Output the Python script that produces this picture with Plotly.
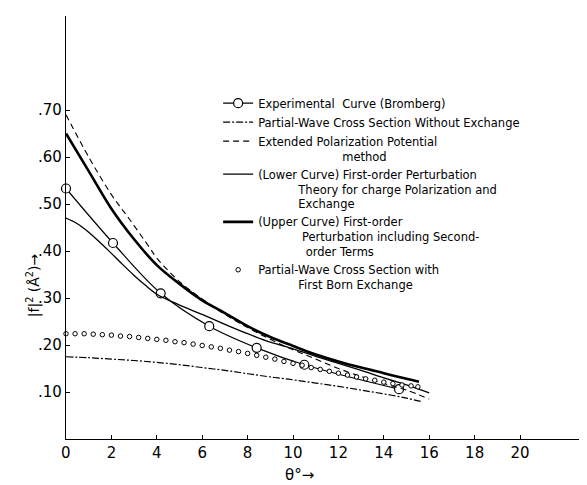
import plotly.graph_objects as go

# ---- data ----
exp_theta = [0, 2.07, 4.17, 6.31, 8.4, 10.5, 14.67]
exp_val = [0.533, 0.417, 0.31, 0.24, 0.194, 0.158, 0.106]

nox_theta = [0, 1, 2, 3, 4, 5, 6, 7, 8, 9, 10, 11, 12, 13, 14, 15, 15.7]
nox_val = [0.175, 0.173, 0.170, 0.167, 0.163, 0.158, 0.152, 0.146, 0.139, 0.132,
           0.126, 0.119, 0.112, 0.104, 0.096, 0.087, 0.079]

epp_theta = [0, 1, 2, 2.82, 3.7, 4, 5, 6, 7, 8, 9, 10, 11, 12, 13, 14, 15, 16]
epp_val = [0.69, 0.60, 0.52, 0.466, 0.406, 0.385, 0.335, 0.298, 0.265, 0.237,
           0.212, 0.19, 0.17, 0.15, 0.133, 0.118, 0.104, 0.085]

low_theta = [0, 0.5, 1, 1.5, 2, 2.5, 3, 3.5, 4, 5, 6, 7, 8, 9, 10, 11, 12, 13, 14, 15, 16]
low_val = [0.47, 0.458, 0.44, 0.418, 0.395, 0.371, 0.348, 0.327, 0.308, 0.285, 0.265,
           0.244, 0.224, 0.206, 0.192, 0.176, 0.161, 0.146, 0.13, 0.115, 0.098]

up_theta = [0, 1, 2, 3, 4, 5, 6, 7, 8, 9, 10, 11, 12, 13, 14, 15, 15.55]
up_val = [0.65, 0.57, 0.49, 0.425, 0.37, 0.33, 0.295, 0.268, 0.24, 0.217, 0.198,
          0.18, 0.165, 0.152, 0.14, 0.128, 0.122]

born_theta = [0.0, 0.4, 0.8, 1.2, 1.6, 2.0, 2.4, 2.8, 3.2, 3.6, 4.0, 4.4, 4.8, 5.2,
              5.6, 6.0, 6.4, 6.8, 7.2, 7.6, 8.0, 8.4, 8.8, 9.2, 9.6, 10.0, 10.4,
              10.8, 11.2, 11.6, 12.0, 12.4, 12.8, 13.2, 13.6, 14.0, 14.4, 14.8,
              15.2, 15.5]
born_val = [0.224, 0.224, 0.224, 0.223, 0.222, 0.221, 0.219, 0.218, 0.216, 0.214,
            0.212, 0.210, 0.207, 0.205, 0.202, 0.199, 0.196, 0.193, 0.189, 0.186,
            0.182, 0.178, 0.174, 0.170, 0.165, 0.161, 0.157, 0.152, 0.148, 0.144,
            0.140, 0.136, 0.132, 0.128, 0.125, 0.121, 0.118, 0.115, 0.113, 0.111]

x_ticks = [2, 4, 6, 8, 10, 12, 14, 16, 18, 20]
x_ticktext = ["2", "4", "6", "8", "10", "12", "14", "16", "18", "20"]
y_ticks = [0.1, 0.2, 0.3, 0.4, 0.5, 0.6, 0.7]
y_ticktext = [".10", ".20", ".30", ".40", ".50", ".60", ".70"]

NB = "\u00a0"
names = [
    "Experimental" + NB * 2 + "Curve (Bromberg)",
    "Partial-Wave Cross Section Without Exchange",
    "Extended Polarization Potential<br>" + NB * 23 + "method",
    "(Lower Curve) First-order Perturbation<br>" + NB * 11
    + "Theory for charge Polarization and<br>" + NB * 11 + "Exchange",
    "(Upper Curve) First-order<br>" + NB * 12 + "Perturbation including Second-<br>"
    + NB * 13 + "order Terms",
    "Partial-Wave Cross Section with<br>" + NB * 11 + "First Born Exchange",
]

FONT = "DejaVu Sans"
fig = go.Figure()

fig.add_trace(go.Scatter(
    x=exp_theta, y=exp_val, mode="lines+markers", name=names[0],
    line=dict(color="black", width=1.2, shape="spline"),
    marker=dict(symbol="circle", size=9, color="white",
                line=dict(color="black", width=1.2)),
    cliponaxis=False))
fig.add_trace(go.Scatter(
    x=nox_theta, y=nox_val, mode="lines", name=names[1],
    line=dict(color="black", width=1.2, dash="7px,2px,2px,2px", shape="spline")))
fig.add_trace(go.Scatter(
    x=epp_theta, y=epp_val, mode="lines", name=names[2],
    line=dict(color="black", width=1.1, dash="6px,4px", shape="spline")))
fig.add_trace(go.Scatter(
    x=low_theta, y=low_val, mode="lines", name=names[3],
    line=dict(color="black", width=1.3, shape="spline")))
fig.add_trace(go.Scatter(
    x=up_theta, y=up_val, mode="lines", name=names[4],
    line=dict(color="black", width=2.6, shape="spline")))
fig.add_trace(go.Scatter(
    x=born_theta, y=born_val, mode="markers", name=names[5],
    marker=dict(symbol="circle", size=4.5, color="white",
                line=dict(color="black", width=1)),
    cliponaxis=False))

# the page body adds an 8px offset, so the figure is 8px smaller and margins compensate
fig.update_layout(
    width=579, height=477,
    margin=dict(l=58, r=0, t=8, b=46),
    paper_bgcolor="white", plot_bgcolor="white",
    font=dict(family=FONT, color="black"),
    showlegend=True,
    legend=dict(x=0.292, y=0.827, xanchor="left", yanchor="top",
                font=dict(size=11.5, family=FONT, color="black"),
                itemwidth=30, valign="top", tracegroupgap=0,
                bgcolor="rgba(0,0,0,0)", traceorder="normal"),
    xaxis=dict(range=[0, 22.95], showline=True, linecolor="black", linewidth=1.3,
               ticks="inside", ticklen=4, tickcolor="black",
               tickvals=x_ticks, ticktext=x_ticktext, showgrid=False, zeroline=False,
               tickfont=dict(size=15, family=FONT)),
    yaxis=dict(range=[0, 0.9], showline=True, linecolor="black", linewidth=1.3,
               ticks="inside", ticklen=4, tickcolor="black",
               tickvals=y_ticks, ticktext=y_ticktext, showgrid=False, zeroline=False,
               tickfont=dict(size=15, family=FONT)),
    annotations=[
        dict(text="0", x=0, y=0, xref="x", yref="y", showarrow=False,
             yanchor="top", yshift=-3, font=dict(size=15, family=FONT)),
        dict(text="θ°→", x=0.449, y=-0.06, xref="paper", yref="paper",
             showarrow=False, yanchor="top", font=dict(size=15, family=FONT)),
        dict(text="|f|<sup>2</sup> (Å<sup>2</sup>)→", x=-0.085, y=0.364,
             xref="paper", yref="paper", showarrow=False, textangle=-90,
             font=dict(size=14, family=FONT)),
    ],
)

fig.write_html("out.html")
